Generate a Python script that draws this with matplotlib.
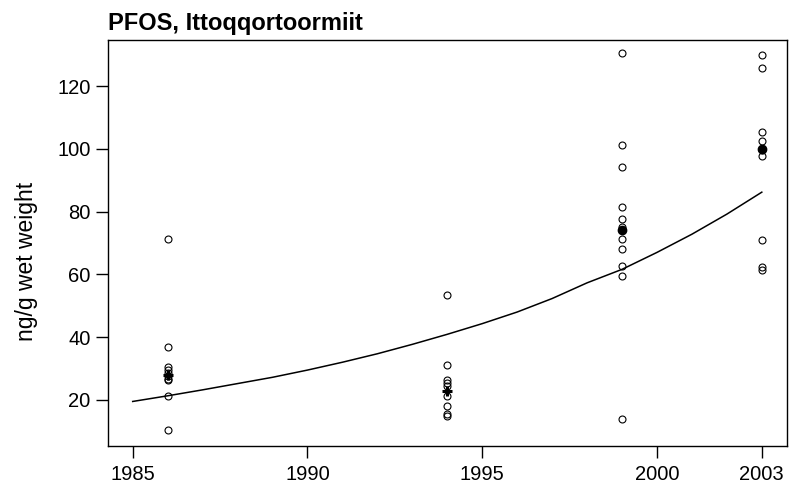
import numpy as np
import matplotlib
matplotlib.use("Agg")
import matplotlib.pyplot as plt

plt.rcParams['font.family'] = ['Liberation Sans', 'DejaVu Sans']

# --- data ---
years_1986 = [71.3, 36.8, 30.6, 29.6, 28.6, 27.6, 26.8, 26.2, 21.3, 10.4]
years_1994 = [53.3, 31.2, 26.4, 25.3, 24.3, 21.1, 18.1, 15.6, 14.8]
years_1999 = [130.4, 101.3, 94.3, 81.6, 77.7, 75.0, 71.3, 68.1, 62.7, 59.6, 13.9]
years_2003 = [129.9, 125.9, 105.3, 102.6, 99.5, 97.7, 70.9, 62.4, 61.4]

sample_years = [1986, 1994, 1999, 2003]
sample_values = [years_1986, years_1994, years_1999, years_2003]

# central value per year (plus for first two, dot for last two)
center_values = [28.0, 22.7, 74.3, 100.0]
center_markers = ['P', 'P', 'o', 'o']

# smoothed trend
trend_years = list(range(1985, 2004))
trend_values = [19.5, 21.3, 23.2, 25.2, 27.2, 29.5, 32.0, 34.7, 37.7, 40.9,
                44.3, 48.0, 52.3, 57.3, 61.6, 67.0, 72.8, 79.2, 86.2]

x_ticks = [1985, 1990, 1995, 2000, 2003]
y_ticks = [20, 40, 60, 80, 100, 120]

fig = plt.figure(figsize=(7.93, 4.93), dpi=100)
ax = fig.add_axes([0.1356, 0.0953, 0.8568, 0.8236])

# --- points ---
for yr, vals in zip(sample_years, sample_values):
    ax.plot([yr] * len(vals), vals, linestyle='none', marker='o', ms=5,
            mfc='none', mec='black', mew=0.8)

for yr, v, m in zip(sample_years, center_values, center_markers):
    if m == 'P':
        ax.plot(yr, v, marker='+', ms=7, mew=2.2, color='black', linestyle='none')
    else:
        ax.plot(yr, v, marker='o', ms=6, color='black', linestyle='none')

ax.plot(trend_years, trend_values, color='black', lw=1.1)

# --- axes styling ---
ax.set_xlim(1984.28, 2003.72)
ax.set_ylim(5.3, 134.7)
ax.set_xticks(x_ticks)
ax.set_yticks(y_ticks)
ax.tick_params(direction='out', length=8.6, width=1, labelsize=14.5)
ax.tick_params(axis='y', pad=3.6)
ax.tick_params(axis='x', pad=5)
for s in ax.spines.values():
    s.set_linewidth(1)

ax.set_ylabel('ng/g wet weight', fontsize=16.5)
ax.yaxis.set_label_coords(-0.103, 0.454)
ax.set_title('PFOS, Ittoqqortoormiit', loc='left', fontsize=17,
             fontweight='bold', pad=7)

fig.savefig('out.png', dpi=100)
